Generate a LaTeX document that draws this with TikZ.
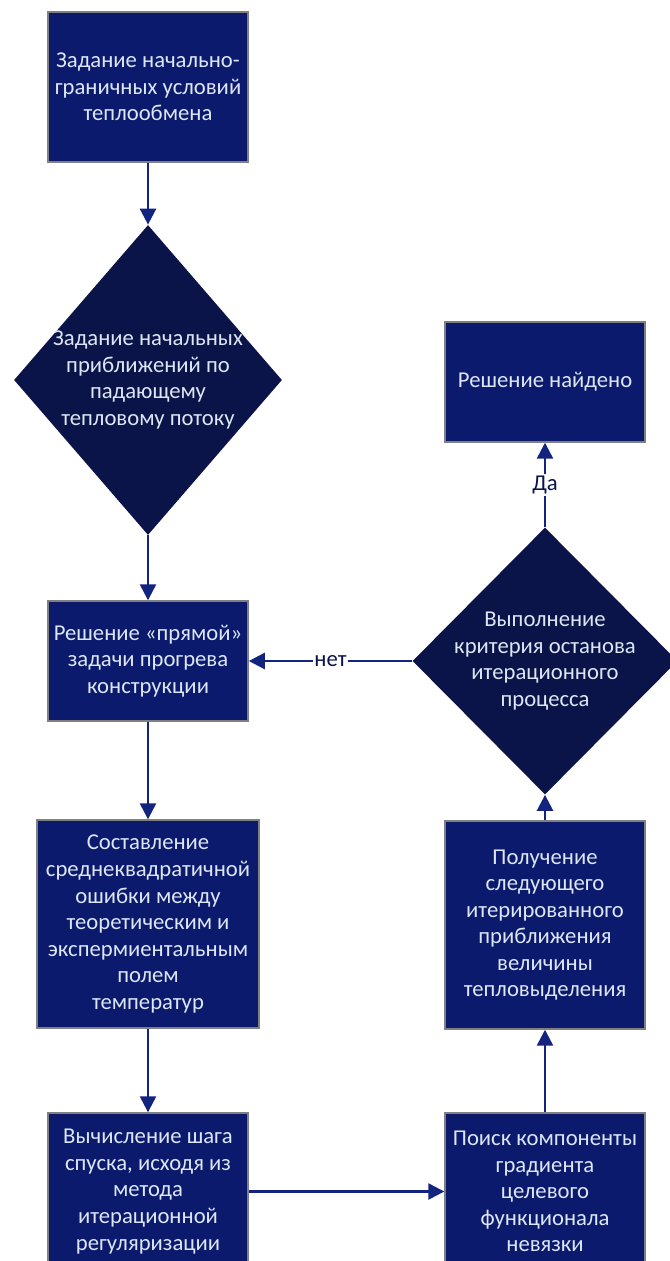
\documentclass[tikz,border=0pt]{standalone}
\usepackage{fontspec}
\setmainfont{Carlito}
\usepackage{xcolor}
\usepackage{tikz}
\usetikzlibrary{arrows.meta,shapes.geometric}

\definecolor{boxblue}{RGB}{12,26,110}
\definecolor{darkblue}{RGB}{10,20,72}
\definecolor{lineblue}{RGB}{18,36,128}
\definecolor{txtgray}{RGB}{220,230,244}

\begin{document}
\begin{tikzpicture}[>={Triangle[width=0.32cm,length=0.32cm]},
	block/.style={rectangle,fill=boxblue,draw=gray,line width=0.8pt,minimum width=4cm,text=txtgray,align=center,font=\fontsize{12.9}{15.1}\selectfont},
	decision/.style={diamond,fill=darkblue,draw=none,inner sep=0pt},
	dtext/.style={text=txtgray,align=center,font=\fontsize{12.9}{15.1}\selectfont},
	flow/.style={->,lineblue,line width=1.4pt},
	answer/.style={fill=white,inner sep=1pt,text=darkblue,font=\fontsize{12.9}{15.1}\selectfont}]

\useasboundingbox (0,0) rectangle (13.4,-25.22);
\clip (0,0) rectangle (13.4,-25.22);

% left column
\node[block,minimum height=3cm] (start) at (2.96,-1.74) {Задание начально-\\граничных условий\\теплообмена};
\node[decision,minimum width=5.36cm,minimum height=6.2cm] (guess) at (2.96,-7.6) {};
\node[dtext] at (guess) {Задание начальных\\приближений по\\падающему\\тепловому потоку};
\node[block,minimum height=2.4cm] (direct) at (2.96,-13.22) {Решение «прямой»\\задачи прогрева\\конструкции};
\node[block,minimum width=4.44cm,minimum height=4.16cm] (error) at (2.96,-18.48) {Составление\\среднеквадратичной\\ошибки между\\теоретическим и\\экспермиентальным\\полем\\температур};
\node[block,minimum height=3.14cm] (descent) at (2.96,-23.83) {Вычисление шага\\спуска, исходя из\\метода\\итерационной\\регуляризации};

% right column
\node[block,minimum height=3.14cm] (gradient) at (10.9,-23.83) {Поиск компоненты\\градиента\\целевого\\функционала\\невязки};
\node[block,minimum height=4.16cm] (next) at (10.9,-18.5) {Получение\\следующего\\итерированного\\приближения\\величины\\тепловыделения};
\node[decision,minimum width=5.3cm,minimum height=5.34cm] (check) at (10.9,-13.22) {};
\node[dtext] at (check) {Выполнение\\критерия останова\\итерационного\\процесса};
\node[block,minimum height=2.4cm] (found) at (10.9,-7.64) {Решение найдено};

\draw[flow] (start) -- (guess);
\draw[flow] (guess) -- (direct);
\draw[flow] (direct) -- (error);
\draw[flow] (error) -- (descent);
\draw[flow] (descent) -- (gradient);
\draw[flow] (gradient) -- (next);
\draw[flow] (next) -- (check);
\draw[flow] (check) -- node[answer] {Да} (found);
\draw[flow] (check) -- node[answer] {нет} (direct);

\end{tikzpicture}
\end{document}
